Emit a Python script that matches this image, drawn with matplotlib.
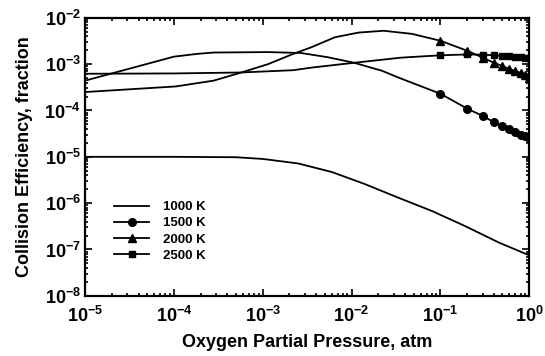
import numpy as np
import matplotlib
matplotlib.use('Agg')
import matplotlib.pyplot as plt
from matplotlib.ticker import LogLocator, FuncFormatter, NullFormatter

# 산소 분압(atm)별 충돌 효율 데이터
p_1000 = [1e-5, 1e-4, 5e-4, 1e-3, 2.5e-3, 6e-3, 1.4e-2, 3.4e-2, 8e-2, 0.19, 0.46, 1.0]
eff_1000 = [1.0e-5, 1.0e-5, 9.8e-6, 9.0e-6, 7.2e-6, 4.7e-6, 2.6e-6, 1.3e-6, 6.8e-7, 3.2e-7, 1.4e-7, 7.5e-8]

p_1500 = [1e-5, 1e-4, 1.8e-4, 2.8e-4, 1.15e-3, 2.7e-3, 5.4e-3, 1.07e-2, 2.2e-2, 3.4e-2,
          0.1, 0.2, 0.3, 0.4, 0.5, 0.6, 0.7, 0.8, 0.9, 1.0]
eff_1500 = [4.4e-4, 1.45e-3, 1.66e-3, 1.78e-3, 1.82e-3, 1.74e-3, 1.41e-3, 1.07e-3, 7.2e-4, 5.1e-4,
            2.3e-4, 1.1e-4, 7.6e-5, 5.6e-5, 4.6e-5, 3.9e-5, 3.4e-5, 3.0e-5, 2.8e-5, 2.6e-5]

p_2000 = [1e-5, 1.05e-4, 2.8e-4, 5.6e-4, 1.15e-3, 2.2e-3, 3.5e-3, 6.5e-3, 1.2e-2, 2.3e-2, 4.8e-2,
          0.1, 0.2, 0.3, 0.4, 0.5, 0.6, 0.7, 0.8, 0.9, 1.0]
eff_2000 = [2.5e-4, 3.3e-4, 4.4e-4, 6.5e-4, 1.0e-3, 1.66e-3, 2.3e-3, 3.8e-3, 4.8e-3, 5.25e-3, 4.5e-3,
            3.2e-3, 1.95e-3, 1.38e-3, 1.07e-3, 9.1e-4, 7.8e-4, 7.1e-4, 6.5e-4, 5.8e-4, 5.1e-4]

p_2500 = [1e-5, 1e-4, 5.6e-4, 2.2e-3, 3.7e-3, 1.07e-2, 3.6e-2,
          0.1, 0.2, 0.3, 0.4, 0.5, 0.6, 0.7, 0.8, 0.9, 1.0]
eff_2500 = [6.2e-4, 6.3e-4, 6.6e-4, 7.4e-4, 8.5e-4, 1.07e-3, 1.38e-3,
            1.55e-3, 1.62e-3, 1.6e-3, 1.55e-3, 1.51e-3, 1.48e-3, 1.45e-3, 1.41e-3, 1.38e-3, 1.35e-3]

labels = ['1000 K', '1500 K', '2000 K', '2500 K']

plt.rcParams['font.family'] = ['Liberation Sans', 'DejaVu Sans']
plt.rcParams['font.weight'] = 'bold'
plt.rcParams['mathtext.fontset'] = 'custom'
plt.rcParams['mathtext.rm'] = 'Liberation Sans:bold'
plt.rcParams['mathtext.it'] = 'Liberation Sans:bold'
plt.rcParams['mathtext.bf'] = 'Liberation Sans:bold'

fig = plt.figure(figsize = (5.45, 3.56), dpi = 100)
ax = fig.add_axes([0.156, 0.169, 0.815, 0.781])

# 0.1 atm 이상 구간에만 마커 표시
def mark_idx(p):
    return [i for i, v in enumerate(p) if v >= 0.1 - 1e-9]

lw = 1.3
ax.plot(p_1000, eff_1000, color = 'black', lw = lw, label = labels[0])
ax.plot(p_1500, eff_1500, color = 'black', lw = lw, marker = 'o', ms = 5.5,
        markevery = mark_idx(p_1500), label = labels[1])
ax.plot(p_2000, eff_2000, color = 'black', lw = lw, marker = '^', ms = 6,
        markevery = mark_idx(p_2000), label = labels[2])
ax.plot(p_2500, eff_2500, color = 'black', lw = lw, marker = 's', ms = 5,
        markevery = mark_idx(p_2500), label = labels[3])

ax.set_xscale('log')
ax.set_yscale('log')
ax.set_xlim(1e-5, 1)
ax.set_ylim(1e-8, 1e-2)

def pow_fmt(v, pos):
    e = int(round(np.log10(v)))
    return r'$10^{%d}$' % e

for axis in (ax.xaxis, ax.yaxis):
    axis.set_major_locator(LogLocator(base = 10, numticks = 10))
    axis.set_minor_locator(LogLocator(base = 10, subs = np.arange(2, 10), numticks = 10))
    axis.set_major_formatter(FuncFormatter(pow_fmt))
    axis.set_minor_formatter(NullFormatter())

ax.tick_params(which = 'both', direction = 'in', top = True, right = True, labelsize = 13, width = 1.2)
ax.tick_params(which = 'major', length = 5)
ax.tick_params(which = 'minor', length = 2.5)
ax.tick_params(axis = 'x', pad = 7)
ax.tick_params(axis = 'y', pad = 3)
for s in ax.spines.values():
    s.set_linewidth(1.6)

ax.set_xlabel('Oxygen Partial Pressure, atm', fontsize = 13, fontweight = 'bold', labelpad = 6)
ax.set_ylabel('Collision Efficiency, fraction', fontsize = 13, fontweight = 'bold', labelpad = 8)

ax.legend(loc = 'upper left', bbox_to_anchor = (0.05, 0.365), frameon = False,
          handlelength = 2.7, handletextpad = 1.0, labelspacing = 0.3, borderpad = 0,
          prop = {'weight': 'bold', 'size': 9.5})

fig.savefig('out.png', dpi = 100)
